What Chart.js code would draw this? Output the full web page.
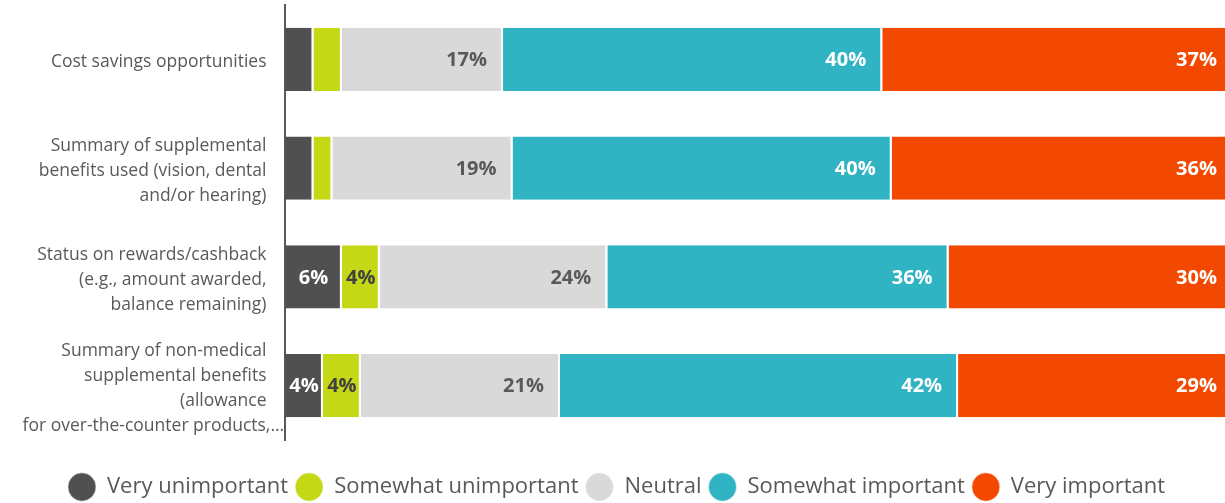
<!DOCTYPE html>
<html>
<head>
<meta charset="utf-8">
<script src="https://cdn.jsdelivr.net/npm/chart.js@4.4.1/dist/chart.umd.min.js"></script>
<style>
  html, body { margin: 0; padding: 0; background: #fff; overflow: hidden; }
  #wrap { width: 1233px; height: 503px; }
</style>
</head>
<body>
<div id="wrap"><canvas id="chart"></canvas></div>
<script>
const categories = [
  'Cost savings opportunities',
  ['Summary of supplemental', 'benefits used (vision, dental', 'and/or hearing)'],
  ['Status on rewards/cashback', '(e.g., amount awarded,', 'balance remaining)'],
  ['Summary of non-medical', 'supplemental benefits', '(allowance', 'for over-the-counter products,…']
];
const seriesNames = ['Very unimportant', 'Somewhat unimportant', 'Neutral', 'Somewhat important', 'Very important'];
const veryUnimportant = [3, 3, 6, 4];
const somewhatUnimportant = [3, 2, 4, 4];
const neutral = [17, 19, 24, 21];
const somewhatImportant = [40, 40, 36, 42];
const veryImportant = [37, 36, 30, 29];

const fills = ['#505050', '#c4d816', '#d9d9d9', '#30b3c3', '#f34800'];
const textColors = ['#ffffff', '#404040', '#595959', '#ffffff', '#ffffff'];
const FONT = '"Open Sans", "Noto Sans", sans-serif';

// percent text inside each segment, pushed to its right end
const segmentLabels = {
  id: 'segmentLabels',
  afterDatasetsDraw(chart) {
    const ctx = chart.ctx;
    ctx.save();
    ctx.font = 'bold 20px ' + FONT;
    ctx.textAlign = 'right';
    ctx.textBaseline = 'middle';
    chart.data.datasets.forEach((ds, i) => {
      chart.getDatasetMeta(i).data.forEach((bar, j) => {
        const v = ds.data[j];
        if (v < 4) return;
        const text = v + '%';
        const w = ctx.measureText(text).width;
        const pad = Math.min(16, (bar.x - bar.base - w) / 2);
        ctx.fillStyle = textColors[i];
        ctx.fillText(text, bar.x - pad, bar.y + 1);
      });
    });
    ctx.restore();
  }
};

// the cut-off line runs closer to the axis than the others
function tickLines(value) {
  const lbl = categories[value];
  const lines = Array.isArray(lbl) ? lbl : [lbl];
  return lines.map(l => l.endsWith('…') ? l : l + '\u2003');
}

const values = [veryUnimportant, somewhatUnimportant, neutral, somewhatImportant, veryImportant];

new Chart(document.getElementById('chart'), {
  type: 'bar',
  data: {
    labels: categories,
    datasets: values.map((d, i) => ({
      label: seriesNames[i],
      data: d,
      backgroundColor: fills[i],
      borderColor: '#ffffff',
      borderWidth: { right: 2 },
      borderSkipped: false,
      categoryPercentage: 1,
      barPercentage: 0.58
    }))
  },
  options: {
    indexAxis: 'y',
    responsive: true,
    maintainAspectRatio: false,
    animation: false,
    layout: { padding: { top: 5, bottom: -5 } },
    scales: {
      x: {
        stacked: true,
        min: 0,
        max: 100,
        grid: { display: false },
        border: { display: false },
        ticks: { display: false },
        afterFit: s => { s.height = 29; }
      },
      y: {
        stacked: true,
        grid: { display: false },
        border: { color: '#595959', width: 2 },
        ticks: {
          autoSkip: false,
          color: '#595959',
          padding: -7,
          labelOffset: 3,
          font: { family: FONT, size: 17.5, lineHeight: 1.42 },
          callback: tickLines
        },
        afterFit: s => {
          s.width = 285;
          s.paddingTop = 0;
          s.paddingBottom = 0;
        }
      }
    },
    plugins: {
      tooltip: { enabled: false },
      legend: {
        position: 'bottom',
        labels: {
          usePointStyle: true,
          pointStyle: 'circle',
          boxHeight: 20,
          pointStyleWidth: 28,
          padding: 7,
          color: '#595959',
          font: { family: FONT, size: 22 }
        }
      }
    }
  },
  plugins: [segmentLabels]
});
</script>
</body>
</html>
